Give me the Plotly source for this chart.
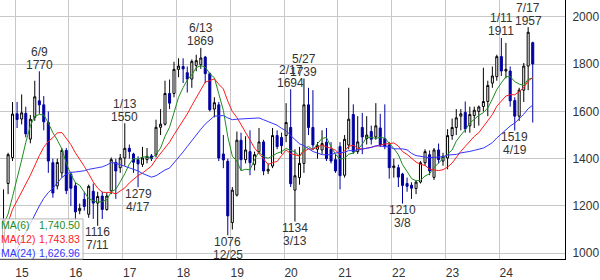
import plotly.graph_objects as go
import pandas as pd

# ---------------- data (monthly candles, 2014-10 .. 2024-08) ----------------
months = pd.period_range("2014-10", "2024-08", freq="M")

opens = [1060, 1295, 1405,
         1590, 1568, 1592, 1483, 1575, 1645, 1628, 1553, 1383, 1285, 1340, 1435,
         1335, 1285, 1180, 1228, 1165, 1262, 1212, 1242, 1185, 1264, 1385, 1362,
         1403, 1444, 1420, 1396, 1376, 1396, 1412, 1417, 1533, 1546, 1676, 1676,
         1778, 1790, 1764, 1737, 1795, 1798, 1830, 1760, 1610, 1628, 1420, 1389,
         1130, 1246, 1478, 1396, 1430, 1376, 1430, 1471, 1348, 1369, 1498, 1490,
         1498, 1532, 1267, 1320, 1380, 1628, 1532, 1440, 1437, 1470, 1440, 1396,
         1451, 1330, 1458, 1587, 1430, 1532, 1485, 1515, 1492, 1530, 1485, 1458,
         1362, 1362, 1335, 1295, 1288, 1274, 1301, 1383, 1417, 1321, 1437, 1390,
         1403, 1498, 1532, 1580, 1596, 1539, 1583, 1600, 1621, 1642, 1720, 1747,
         1832, 1771, 1771, 1646, 1580, 1690, 1792, 1891]
highs = [1270, 1425, 1640,
         1640, 1672, 1620, 1585, 1730, 1770, 1665, 1600, 1400, 1400, 1445, 1445,
         1345, 1300, 1210, 1260, 1290, 1295, 1260, 1260, 1255, 1405, 1400, 1420,
         1550, 1460, 1425, 1410, 1450, 1445, 1420, 1565, 1610, 1730, 1735, 1810,
         1825, 1825, 1790, 1820, 1840, 1869, 1835, 1765, 1660, 1640, 1500, 1400,
         1280, 1515, 1510, 1495, 1520, 1430, 1530, 1480, 1380, 1530, 1520, 1510,
         1635, 1694, 1440, 1450, 1739, 1700, 1690, 1470, 1520, 1530, 1470, 1420,
         1470, 1500, 1700, 1630, 1580, 1594, 1580, 1540, 1635, 1590, 1630, 1470,
         1400, 1375, 1340, 1320, 1300, 1310, 1390, 1440, 1435, 1445, 1464, 1425,
         1525, 1570, 1610, 1610, 1642, 1620, 1620, 1625, 1785, 1730, 1790, 1840,
         1911, 1890, 1790, 1660, 1700, 1805, 1957, 1895]
lows = [1000, 1250, 1390,
        1530, 1545, 1490, 1465, 1560, 1590, 1520, 1340, 1235, 1270, 1320, 1250,
        1200, 1140, 1165, 1180, 1150, 1145, 1116, 1145, 1180, 1250, 1230, 1340,
        1370, 1400, 1340, 1279, 1365, 1380, 1390, 1405, 1500, 1540, 1610, 1660,
        1745, 1720, 1680, 1700, 1770, 1780, 1720, 1600, 1575, 1390, 1360, 1076,
        1100, 1240, 1350, 1380, 1330, 1350, 1420, 1330, 1335, 1360, 1440, 1420,
        1470, 1280, 1134, 1290, 1340, 1500, 1440, 1400, 1420, 1390, 1380, 1340,
        1270, 1320, 1440, 1420, 1420, 1419, 1460, 1460, 1480, 1450, 1440, 1315,
        1320, 1280, 1210, 1260, 1230, 1250, 1295, 1370, 1330, 1310, 1380, 1370,
        1355, 1480, 1500, 1520, 1510, 1510, 1530, 1540, 1600, 1580, 1700, 1730,
        1750, 1740, 1620, 1519, 1560, 1640, 1690, 1553]
closes = [1140, 1417, 1589,
          1566, 1594, 1505, 1567, 1662, 1628, 1556, 1390, 1255, 1384, 1435, 1265,
          1275, 1175, 1190, 1198, 1283, 1212, 1240, 1185, 1242, 1396, 1348, 1403,
          1444, 1430, 1385, 1378, 1403, 1410, 1400, 1533, 1546, 1676, 1635, 1778,
          1792, 1780, 1737, 1812, 1815, 1826, 1760, 1607, 1637, 1403, 1395, 1158,
          1267, 1478, 1396, 1437, 1383, 1417, 1471, 1348, 1355, 1498, 1451, 1455,
          1553, 1294, 1328, 1380, 1628, 1532, 1458, 1455, 1464, 1400, 1390, 1348,
          1328, 1482, 1567, 1430, 1471, 1492, 1500, 1482, 1539, 1458, 1451, 1362,
          1369, 1322, 1287, 1283, 1275, 1301, 1383, 1430, 1348, 1437, 1396, 1410,
          1498, 1532, 1573, 1590, 1526, 1587, 1605, 1619, 1642, 1710, 1750, 1832,
          1771, 1778, 1645, 1580, 1690, 1792, 1935, 1801]
# closes before the visible range (2013-01 .. 2014-09), used only by the moving averages
earlier_closes = [620, 680, 720, 700, 760, 740, 780, 800, 820, 850, 880, 920,
                  1100, 1130, 1150, 1120, 1140, 1150, 1130, 1100, 1060]

ma_windows = [6, 12, 24]
ma_colors = ["#1e8c1e", "#ff1a1a", "#3535ff"]

# labelled highs / lows: (month, date text)
high_marks = [("2015-06", "6/9"), ("2017-01", "1/13"), ("2018-06", "6/13"),
              ("2020-02", "2/17"), ("2020-05", "5/27"), ("2024-01", "1/11"),
              ("2024-07", "7/17")]
low_marks = [("2016-07", "7/11"), ("2017-04", "4/17"), ("2018-12", "12/25"),
             ("2020-03", "3/13"), ("2022-03", "3/8"), ("2024-04", "4/19")]

year_ticks = ["2015-01-01", "2016-01-01", "2017-01-01", "2018-01-01", "2019-01-01",
              "2020-01-01", "2021-01-01", "2022-01-01", "2023-01-01", "2024-01-01"]
year_labels = ["15", "16", "17", "18", "19", "20", "21", "22", "23", "24"]
y_ticks = [1000, 1200, 1400, 1600, 1800, 2000]

# ---------------- figure ----------------
W, H = 600, 280
ML, MR, MT, MB = 0, 35, 0, 12
PW, PH = W - ML - MR, H - MT - MB

x = [p.start_time + pd.Timedelta(days=14) for p in months]
month_keys = [str(p) for p in months]
all_close = pd.Series(earlier_closes + closes, dtype=float)
n_pre = len(earlier_closes)

fig = go.Figure()
fig.add_trace(go.Candlestick(
    x=x, open=opens, high=highs, low=lows, close=closes,
    increasing=dict(line=dict(color="#000000", width=1), fillcolor="#ffffff"),
    decreasing=dict(line=dict(color="#0000a0", width=1), fillcolor="#0000a0"),
    whiskerwidth=0, showlegend=False, hoverinfo="skip"))

ma_last = []
for w, col in zip(ma_windows, ma_colors):
    ma = all_close.rolling(w).mean().iloc[n_pre:].tolist()
    ma_last.append(ma[-1])
    fig.add_trace(go.Scatter(x=x, y=ma, mode="lines",
                             line=dict(color=col, width=1),
                             showlegend=False, hoverinfo="skip"))

ann = []
lab_font = dict(family="Liberation Sans, Arial, sans-serif", size=12, color="#333333")
for key, dtxt in high_marks:
    i = month_keys.index(key)
    ann.append(dict(x=x[i], y=highs[i], text=str(highs[i]), showarrow=False,
                    yanchor="middle", yshift=6.5, font=lab_font))
    ann.append(dict(x=x[i], y=highs[i], text=dtxt, showarrow=False,
                    yanchor="middle", yshift=19.5, font=lab_font))
for key, dtxt in low_marks:
    i = month_keys.index(key)
    ann.append(dict(x=x[i], y=lows[i], text=str(lows[i]), showarrow=False,
                    yanchor="middle", yshift=-6.5, font=lab_font))
    ann.append(dict(x=x[i], y=lows[i], text=dtxt, showarrow=False,
                    yanchor="middle", yshift=-19.5, font=lab_font))

# MA legend box (bottom-left)
def px_x(p):
    return (p - ML) / PW

def px_y(p):
    return (MT + PH - p) / PH

shapes = [dict(type="rect", xref="paper", yref="paper",
               x0=px_x(-5), x1=px_x(83), y0=px_y(268), y1=px_y(226.5),
               fillcolor="rgba(255,255,255,0.72)",
               line=dict(color="#b4b4b4", width=1), layer="above")]
leg_font = "Liberation Sans, Arial, sans-serif"
for k, (w, col, v) in enumerate(zip(ma_windows, ma_colors, ma_last)):
    yc = px_y(233 + 14.5 * k)
    ann.append(dict(xref="paper", yref="paper", x=px_x(-1), y=yc, text=f"MA({w})",
                    showarrow=False, xanchor="left", yanchor="middle",
                    font=dict(family=leg_font, size=10.5, color=col)))
    ann.append(dict(xref="paper", yref="paper", x=px_x(82), y=yc, text=f"{v:,.2f}",
                    showarrow=False, xanchor="right", yanchor="middle",
                    font=dict(family=leg_font, size=10.5, color=col)))

fig.update_layout(
    width=W, height=H,
    margin=dict(l=ML, r=MR, t=MT, b=MB, pad=0),
    paper_bgcolor="white", plot_bgcolor="white",
    boxgap=0.3,
    font=dict(family="Liberation Sans, Arial, sans-serif", size=12, color="#333333"),
    xaxis=dict(type="date", range=["2014-09-21", "2025-03-22"],
               rangeslider=dict(visible=False),
               tickmode="array", tickvals=year_ticks, ticktext=year_labels,
               showgrid=True, gridcolor="#c8c8c8", gridwidth=1,
               showline=True, linecolor="#000000", linewidth=1,
               ticks="", ticklabelshift=7, ticklabelstandoff=3,
               zeroline=False, fixedrange=True),
    yaxis=dict(side="right", range=[975.5, 2071.6], tickvals=y_ticks,
               showgrid=True, gridcolor="#c8c8c8", gridwidth=1,
               showline=True, linecolor="#000000", linewidth=1,
               ticks="", ticklabelstandoff=4, zeroline=False, fixedrange=True),
    annotations=ann, shapes=shapes,
)

fig.write_html("out.html")
